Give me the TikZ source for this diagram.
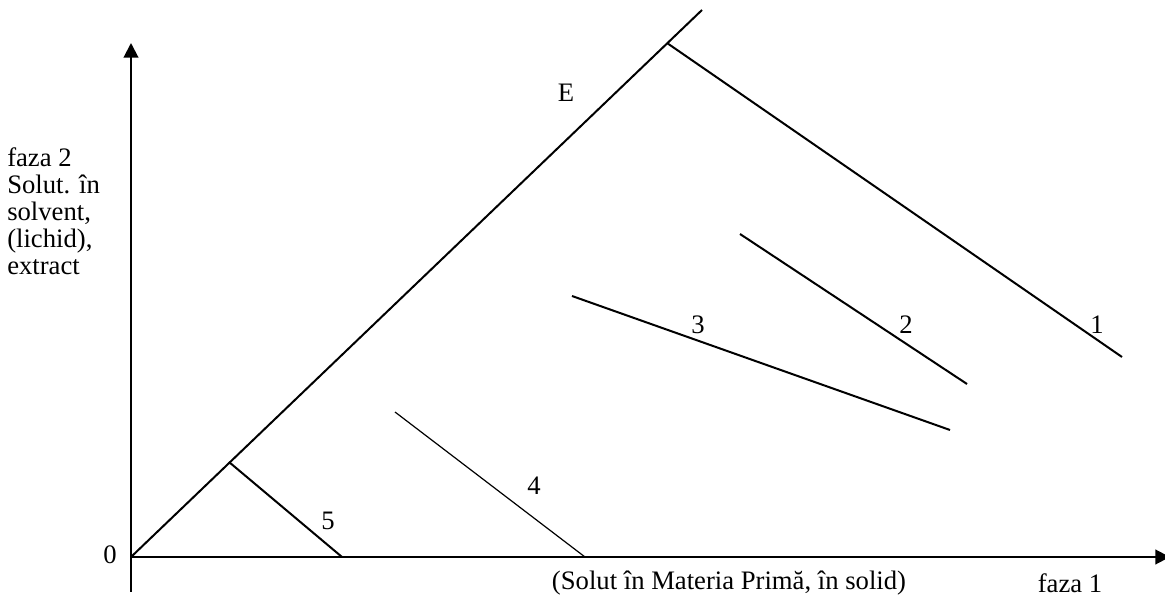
\documentclass[tikz,border=0pt]{standalone}
\usepackage{fontspec}
\setmainfont{Liberation Serif}
\usetikzlibrary{arrows.meta}
\begin{document}
\begin{tikzpicture}[x=0.75pt,y=-0.75pt,
    axis/.style={line width=1.5pt,-{Triangle[length=11pt,width=11pt]}},
    tie/.style={line width=1.5pt},
    lbl/.style={font=\fontsize{20}{20.3}\selectfont}]
    \useasboundingbox (0,0) rectangle (1165,598);
    % Axes
    \coordinate (O) at (131,557);
    \coordinate (ybot) at (131,592);
    \coordinate (ytop) at (131,43);
    \coordinate (xend) at (1170,557);
    \draw[axis] (ybot) -- (ytop);
    \draw[axis] (O) -- (xend);
    \node[lbl] (zero) at (110,555) {0};
    % Equilibrium line
    \coordinate (Etop) at (702,10);
    \draw[tie] (O) -- (Etop);
    \node[lbl] (E) at (566,93) {E};
    % Tie lines
    \coordinate (a1) at (667,43);    \coordinate (b1) at (1122,357);
    \coordinate (a2) at (740,234);   \coordinate (b2) at (967,384);
    \coordinate (a3) at (572,296);   \coordinate (b3) at (950,430);
    \coordinate (a4) at (395,412);   \coordinate (b4) at (585,557);
    \coordinate (a5) at (229,462);   \coordinate (b5) at (342,557);
    \draw[tie] (a1) -- (b1);
    \draw[tie] (a2) -- (b2);
    \draw[tie] (a3) -- (b3);
    \draw[line width=0.9pt] (a4) -- (b4);
    \draw[tie] (a5) -- (b5);
    \node[lbl] (n1) at (1097,325) {1};
    \node[lbl] (n2) at (906,325) {2};
    \node[lbl] (n3) at (698,325) {3};
    \node[lbl] (n4) at (534,486) {4};
    \node[lbl] (n5) at (328,521) {5};
    % Axis texts
    \node[lbl,align=left,anchor=west,inner sep=0pt] (phase2) at (7,211)
        {faza 2\\Solut. în\\solvent,\\(lichid),\\extract};
    \node[lbl] (feed) at (729,583) {(Solut în Materia Primă, în solid)};
    \node[lbl] (phase1) at (1070,583) {faza 1};
\end{tikzpicture}
\end{document}
